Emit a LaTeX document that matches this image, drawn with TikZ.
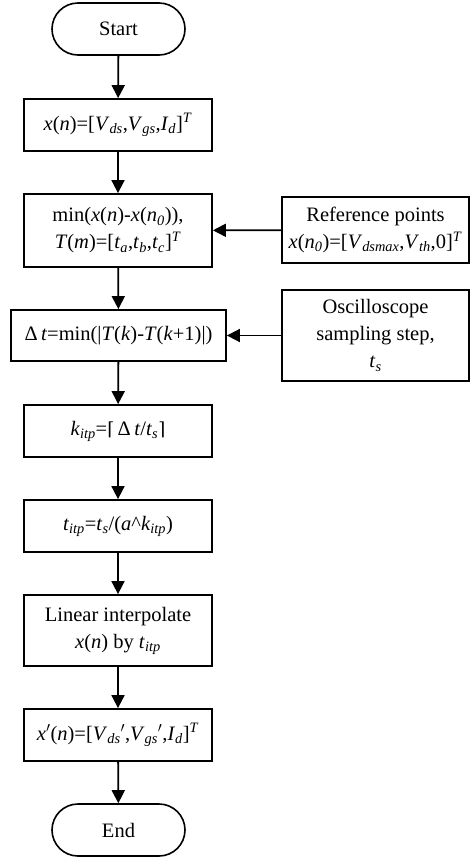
\documentclass[tikz,border=0pt]{standalone}
\usepackage{fontspec}
\setmainfont{Liberation Serif}
\newfontfamily\ceilfont{DejaVu Serif}
\usetikzlibrary{arrows.meta}
\newcommand{\isub}[1]{\textsubscript{\textit{#1}}}
\newcommand{\isup}[1]{\textsuperscript{\textit{#1}}}
\begin{document}
\begin{tikzpicture}[x=1pt,y=-1pt,
  every node/.style={font=\fontsize{20.5}{27}\selectfont, align=center, inner sep=0pt},
  proc/.style={draw, line width=1.8pt, minimum width=188pt, minimum height=52pt},
  term/.style={draw, line width=1.6pt, rounded corners=26pt, minimum width=133pt, minimum height=52pt},
  flow/.style={line width=1.8pt, -{Triangle[length=13pt,width=13pt]}}]
\useasboundingbox (0,0) rectangle (471,860);
\node[term] (start) at (118.5,29) {Start};
\node[proc] (b1) at (118,125) {\textit{x}(\textit{n})=[\textit{V}\isub{ds},\textit{V}\isub{gs},\textit{I}\isub{d}]\isup{T}};
\node[proc, minimum height=73pt] (b2) at (118,230.5) {min(\textit{x}(\textit{n})-\textit{x}(\textit{n}\isub{0})),\\ \textit{T}(\textit{m})=[\textit{t}\isub{a},\textit{t}\isub{b},\textit{t}\isub{c}]\isup{T}};
\node[proc, minimum width=187pt, minimum height=66pt] (ref) at (375.5,230) {Reference points\\ \textit{x}(\textit{n}\isub{0})=[\textit{V}\isub{dsmax},\textit{V}\isub{th},0]\isup{T}};
\node[proc, minimum width=215pt, minimum height=51pt] (b3) at (118.5,335.5) {Δ\,\textit{t}=min(|\textit{T}(\textit{k})-\textit{T}(\textit{k}+1)|)};
\node[proc, minimum width=187pt, minimum height=91pt] (osc) at (375.5,335.5) {Oscilloscope\\ sampling step,\\ \textit{t}\isub{s}};
\node[proc] (b4) at (118,431) {\textit{k}\isub{itp}={\ceilfont\fontsize{18}{27}\selectfont ⌈}\,Δ\,\textit{t}/\textit{t}\isub{s}{\ceilfont\fontsize{18}{27}\selectfont ⌉}};
\node[proc] (b5) at (118,526) {\textit{t}\isub{itp}=\textit{t}\isub{s}/(\textit{a}\textasciicircum\textit{k}\isub{itp})};
\node[proc, minimum height=71pt] (b6) at (118,630.5) {Linear interpolate\\ \textit{x}(\textit{n}) by \textit{t}\isub{itp}};
\node[proc] (b7) at (118,735) {\textit{x}$'$(\textit{n})=[\textit{V}\isub{ds}$'$,\textit{V}\isub{gs}$'$,\textit{I}\isub{d}]\isup{T}};
\node[term] (end) at (118.5,830) {End};
\draw[flow] (start) -- (b1);
\draw[flow] (b1) -- (b2);
\draw[flow] (ref) -- (b2);
\draw[flow] (b2) -- (b3);
\draw[flow] (osc) -- (b3);
\draw[flow] (b3) -- (b4);
\draw[flow] (b4) -- (b5);
\draw[flow] (b5) -- (b6);
\draw[flow] (b6) -- (b7);
\draw[flow] (b7) -- (end);
\end{tikzpicture}
\end{document}
